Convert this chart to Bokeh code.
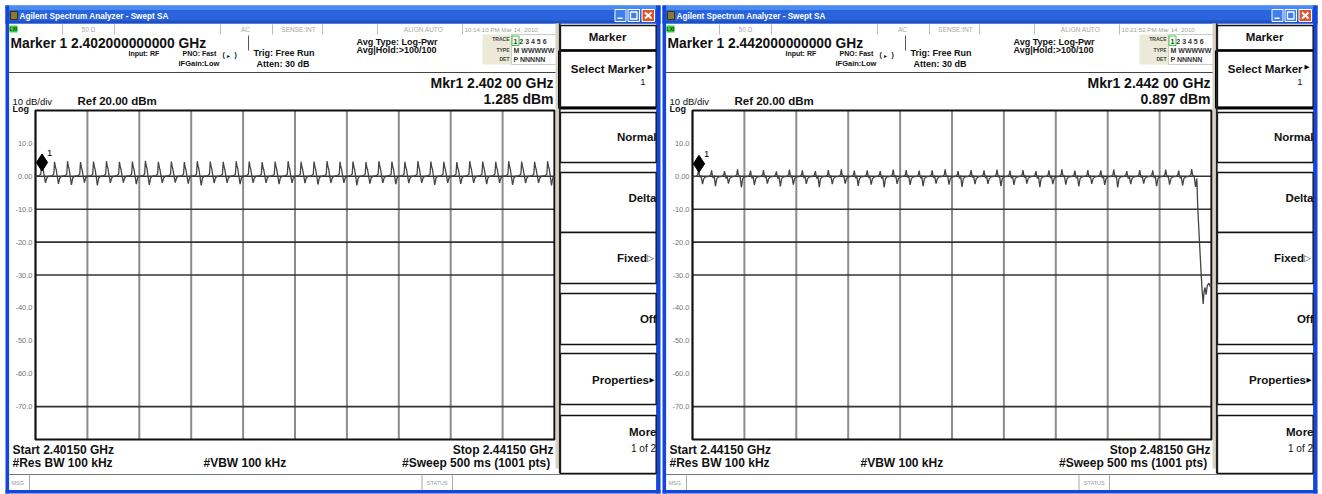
import numpy as np
from bokeh.plotting import figure
from bokeh.models import Range1d
from bokeh.core.properties import value
from bokeh.embed import file_html
from bokeh.resources import INLINE

SANS = "Liberation Sans"
SYM = "DejaVu Sans"

# ---------------- data ----------------
span_start_ghz = [2.40150, 2.44150]
span_stop_ghz = [2.44150, 2.48150]
ref_level_dbm = 20.0
bottom_level_dbm = -80.0
y_tick_values = [10, 0, -10, -20, -30, -40, -50, -60, -70]
y_tick_labels = ["10.0", "0.00", "-10.0", "-20.0", "-30.0", "-40.0", "-50.0", "-60.0", "-70.0"]
hgrid_shown_dbm = [0, -10, -20, -30, -70]

left_channel_mhz = [2402 + i for i in range(40)]
right_channel_mhz = [2442 + i for i in range(39)]

left_peak_dbm = [4.5, 4.4, 4.6, 4.3, 4.5, 4.6, 4.4, 4.5, 4.7, 4.4,
                 4.5, 4.3, 4.6, 4.5, 4.4, 4.6, 4.5, 4.3, 4.5, 4.6,
                 4.4, 4.5, 4.6, 4.4, 4.5, 4.3, 4.6, 4.5, 4.4, 4.6,
                 4.5, 4.4, 4.3, 4.6, 4.5, 4.4, 4.6, 4.5, 4.4, 4.6]
left_dip_dbm = [-2.0, -2.3, -2.6, -1.9, -2.8, -2.0, -1.9, -2.4, -2.6, -2.0,
                -1.9, -2.2, -2.8, -2.1, -2.0, -2.4, -2.0, -2.0, -2.4, -2.0,
                -2.1, -2.5, -2.0, -2.0, -2.8, -2.2, -2.0, -2.4, -2.1, -2.0,
                -2.6, -2.0, -2.3, -2.0, -2.4, -2.0, -2.6, -2.1, -2.0, -2.8]
right_peak_dbm = [2.0, 1.8, 1.6, 2.1, 1.7, 1.9, 1.5, 2.0, 1.8, 1.6,
                  1.9, 2.1, 1.7, 1.8, 1.6, 2.0, 1.9, 1.7, 1.8, 2.1,
                  1.6, 1.9, 1.8, 2.0, 1.7, 1.9, 1.6, 1.8, 2.1, 1.7,
                  1.9, 1.8, 2.0, 1.6, 1.9, 1.8, 2.0, 1.7, 2.2]
right_dip_dbm = [-2.4, -3.0, -2.2, -3.4, -2.6, -2.2, -3.1, -2.5, -2.3, -3.3,
                 -2.4, -2.2, -2.9, -2.5, -3.4, -2.3, -2.6, -3.0, -2.2, -2.5,
                 -3.2, -2.4, -2.3, -3.0, -2.6, -2.2, -3.3, -2.4, -2.5, -3.1,
                 -2.3, -2.6, -3.4, -2.4, -2.2, -3.0, -2.5, -2.8, -3.2]
left_base_dbm = 0.0
right_base_dbm = -0.2
right_tail_mhz = [2480.44, 2480.58, 2480.70, 2480.78, 2480.86, 2480.92,
                  2481.00, 2481.08, 2481.18, 2481.30, 2481.42, 2481.50]
right_tail_dbm = [-9.4, -20.4, -29.5, -34.7, -38.8, -35.2,
                  -33.8, -36.0, -33.2, -32.5, -33.6, -32.8]

marker_ghz = [2.402, 2.442]
marker_dbm = [1.285, 0.897]
timestamps = ["10:14:10 PM Mar 14, 2010", "10:21:52 PM Mar 14, 2010"]

# shape of one channel as seen on the trace: offsets (MHz) from the channel centre
shape_offset_mhz = [-0.50, -0.22, -0.09, -0.03, 0.03, 0.09, 0.16, 0.27, 0.37]


def build_trace(channels, peaks, dips, base, start, stop, tail_x=None, tail_y=None):
    xs, ys = [start], [base]
    for c, pk, dp in zip(channels, peaks, dips):
        levels = [base, base + 0.2, base + 0.7, pk, pk - 1.5, pk - 2.3, base + 0.4, dp, base - 0.5]
        for off, lv in zip(shape_offset_mhz, levels):
            xs.append((c + off) / 1000.0)
            ys.append(lv)
    if tail_x is not None:
        xs += [t / 1000.0 for t in tail_x]
        ys += list(tail_y)
    else:
        xs.append(stop)
        ys.append(base)
    return xs, ys


traces = [
    build_trace(left_channel_mhz, left_peak_dbm, left_dip_dbm, left_base_dbm,
                span_start_ghz[0], span_stop_ghz[0]),
    build_trace(right_channel_mhz, right_peak_dbm, right_dip_dbm, right_base_dbm,
                span_start_ghz[1], span_stop_ghz[1], right_tail_mhz, right_tail_dbm),
]

# ---------------- figure (screen-like canvas) ----------------
p = figure(width=1322, height=494, x_range=Range1d(0, 1322), y_range=Range1d(494, 0),
           output_backend="svg", toolbar_location=None, min_border=0,
           x_axis_location=None, y_axis_location=None, outline_line_color=None,
           background_fill_color="white", border_fill_color="white")
p.grid.visible = False


def T(x, y, s, size, bold=True, align="left", color="#111111", font=SANS, baseline="middle"):
    p.text(x=[x], y=[y], text=[s], text_font=value(font), text_font_size=f"{size}px",
           text_font_style="bold" if bold else "normal", text_align=align,
           text_baseline=baseline, text_color=color)


def R(l, r, t, b, fill, line=None, lw=1.0):
    p.quad(left=[l], right=[r], top=[t], bottom=[b], fill_color=fill,
           line_color=line, line_width=lw)


def S(x0, y0, x1, y1, color="#000000", w=1.0):
    p.segment(x0=[x0], y0=[y0], x1=[x1], y1=[y1], line_color=color, line_width=w)


def window(idx, ox):
    start, stop = span_start_ghz[idx], span_stop_ghz[idx]
    # title bar
    R(5 + ox, 660 + ox, 5, 23, "#2A64DC")
    R(5 + ox, 660 + ox, 5, 9.5, "#4A8CF2")
    R(5 + ox, 660 + ox, 20, 23, "#1D50C4")
    R(10 + ox, 17 + ox, 11, 19, "#8A7A38", "#3A3010")
    T(19 + ox, 15.5, "Agilent Spectrum Analyzer - Swept SA", 8.2, color="white")
    R(614.5 + ox, 625.5 + ox, 9, 21, "#3F7FF0", "white", 1)
    R(617 + ox, 622 + ox, 17, 18.6, "white")
    R(627.5 + ox, 639 + ox, 9, 21, "#3F7FF0", "white", 1)
    R(630 + ox, 636.5 + ox, 11.5, 18.5, None, "white", 1.3)
    R(641.5 + ox, 654 + ox, 9, 21, "#E0542B", "white", 1)
    S(644.5 + ox, 12, 651 + ox, 18, "white", 2)
    S(651 + ox, 12, 644.5 + ox, 18, "white", 2)
    # borders
    R(5 + ox, 8.6 + ox, 5, 493, "#1446DE")
    R(655.6 + ox, 660 + ox, 5, 493, "#1446DE")
    R(5 + ox, 660 + ox, 489.5, 493, "#1446DE")

    # status row
    R(9 + ox, 17 + ox, 25, 32, "#3BD13B")
    T(13 + ox, 28.6, "LXI", 5, align="center", color="#114411")
    for sx in [62, 114, 220, 272, 322, 377, 462]:
        S(sx + ox, 24, sx + ox, 34, "#bbbbbb", 1)
    T(88 + ox, 29, "50 Ω", 6.5, bold=False, align="center", color="#a8a8a8")
    T(245 + ox, 29, "AC", 6.5, bold=False, align="center", color="#a8a8a8")
    T(298 + ox, 29, "SENSE:INT", 6.5, bold=False, align="center", color="#a8a8a8")
    T(423 + ox, 29, "ALIGN AUTO", 6.5, bold=False, align="center", color="#a8a8a8")
    T(464 + ox, 29, timestamps[idx], 6.2, bold=False, color="#a0a0a0")

    # header
    T(10 + ox, 43, f"Marker 1  {marker_ghz[idx]:.12f} GHz", 13.8)
    T(128 + ox, 53, "Input: RF", 7)
    T(182 + ox, 53, "PNO: Fast", 7)
    T(222 + ox, 54, "(", 7)
    T(226.5 + ox, 55, "▸", 6, font=SYM)
    T(234 + ox, 54, ")", 7)
    T(178 + ox, 63, "IFGain:Low", 7.5)
    S(248 + ox, 35, 248 + ox, 50, "#555555", 1)
    T(253 + ox, 52, "Trig: Free Run", 9)
    T(256 + ox, 63, "Atten: 30 dB", 9)
    T(356 + ox, 41, "Avg Type: Log-Pwr", 9)
    T(356 + ox, 49.5, "Avg|Hold:>100/100", 9)

    # trace box
    R(482 + ox, 511 + ox, 34, 64, "#ECE9D8")
    R(511 + ox, 557 + ox, 34, 64, "white", "#cccccc", 1)
    R(511.5 + ox, 518.5 + ox, 35.5, 45, None, "#33cc33", 1)
    T(509 + ox, 38.5, "TRACE", 5, align="right", color="#444444")
    T(513 + ox, 40.5, "1 2 3 4 5 6", 7, color="#333333")
    T(509 + ox, 49.5, "TYPE", 5, align="right", color="#444444")
    T(513 + ox, 50, "M WWWWW", 7, color="#333333")
    T(509 + ox, 58, "DET", 5, align="right", color="#444444")
    T(513 + ox, 58.5, "P NNNNN", 7, color="#333333")

    S(8.6 + ox, 72, 556 + ox, 72, "#444444", 1)
    g = f"{marker_ghz[idx]:.5f}"
    T(553 + ox, 82, f"Mkr1 {g[:5]} {g[5:]} GHz", 14, align="right")
    T(553 + ox, 98.5, f"{marker_dbm[idx]:.3f} dBm", 14, align="right")
    T(12 + ox, 100.5, "10 dB/div", 9.5, bold=False)
    T(12 + ox, 108, "Log", 9)
    T(77 + ox, 100.5, f"Ref {ref_level_dbm:.2f} dBm", 11.5)

    # ---------- plot area through its own scales ----------
    sub = p.subplot(x_source=Range1d(start, stop),
                    y_source=Range1d(bottom_level_dbm, ref_level_dbm),
                    x_target=Range1d(35 + ox, 554 + ox),
                    y_target=Range1d(439, 110))
    vgrid = list(np.linspace(start, stop, 11)[1:-1])
    sub.segment(x0=vgrid, x1=vgrid, y0=[bottom_level_dbm] * len(vgrid),
                y1=[ref_level_dbm] * len(vgrid), line_color="#8c8c8c", line_width=2)
    sub.segment(x0=[start] * len(hgrid_shown_dbm), x1=[stop] * len(hgrid_shown_dbm),
                y0=hgrid_shown_dbm, y1=hgrid_shown_dbm, line_color="#333333", line_width=1.6)
    sub.quad(left=[start], right=[stop], bottom=[bottom_level_dbm], top=[ref_level_dbm],
             fill_color=None, line_color="#111111", line_width=2.2)
    sub.text(x=[start] * len(y_tick_values), y=y_tick_values, text=y_tick_labels,
             x_offset=-3, text_align="right", text_baseline="middle",
             text_font=value(SANS), text_font_size="7.5px", text_color="#777777")
    xs, ys = traces[idx]
    sub.line(xs, ys, line_color="#444444", line_width=1.3)
    sub.scatter([marker_ghz[idx]], [marker_dbm[idx] + 2.9], marker="diamond", size=17,
                fill_color="#000000", line_color="#000000")
    sub.text(x=[marker_ghz[idx]], y=[marker_dbm[idx]], text=["1"], x_offset=5, y_offset=-19,
             text_font=value(SANS), text_font_size="9.5px", text_baseline="middle",
             text_color="#000000")

    # bottom annotations
    T(12 + ox, 449, f"Start {start:.5f} GHz", 12)
    T(12 + ox, 462.5, "#Res BW 100 kHz", 12)
    T(203 + ox, 462.5, "#VBW 100 kHz", 12)
    T(553 + ox, 449, f"Stop {stop:.5f} GHz", 12, align="right")
    T(553 + ox, 462.5, "#Sweep  500 ms (1001 pts)", 12, align="right")

    # softkey panel
    R(555 + ox, 558.5 + ox, 23, 468, "#D6D2C2")
    keys = [(25, 50), (50, 107), (112, 162), (172, 232), (232, 283), (293, 344), (353, 404), (415, 473)]
    for (kt, kb) in keys:
        R(560 + ox, 655.6 + ox, kt, kb, "white", "#111111", 1.3)
    S(559 + ox, 50, 559 + ox, 108, "#000000", 3)
    S(559 + ox, 107.5, 655.6 + ox, 107.5, "#000000", 3)
    S(559 + ox, 50, 655.6 + ox, 50, "#000000", 2.5)
    S(559.3 + ox, 23, 559.3 + ox, 473, "#222222", 1.8)
    T(607 + ox, 36.5, "Marker", 11.5, align="center")
    T(645 + ox, 68, "Select Marker", 11.5, align="right")
    T(647 + ox, 66, "▶", 6.5, font=SYM, color="#000000")
    T(645 + ox, 81, "1", 9.5, bold=False, align="right")
    T(656 + ox, 136, "Normal", 11.5, align="right")
    T(656 + ox, 197, "Delta", 11.5, align="right")
    T(646.5 + ox, 257, "Fixed", 11.5, align="right")
    T(646.5 + ox, 257.5, "▷", 9, bold=False, font=SYM, color="#333333")
    T(656 + ox, 318, "Off", 11.5, align="right")
    T(648.5 + ox, 379, "Properties", 11.5, align="right")
    T(649 + ox, 379, "▶", 6.5, font=SYM, color="#000000")
    T(656 + ox, 431.5, "More", 11.5, align="right")
    T(655.5 + ox, 447.5, "1 of 2", 10, bold=False, align="right")

    # status bar
    S(8.6 + ox, 474, 655.6 + ox, 474, "#777777", 1)
    S(29 + ox, 474, 29 + ox, 489.5, "#aaaaaa", 1)
    T(11 + ox, 482, "MSG", 5.5, bold=False, color="#999999")
    S(421.5 + ox, 474, 421.5 + ox, 489.5, "#aaaaaa", 1)
    S(452 + ox, 474, 452 + ox, 489.5, "#aaaaaa", 1)
    T(436.7 + ox, 482, "STATUS", 5.5, bold=False, align="center", color="#999999")


window(0, 0)
window(1, 657)

open("out.html", "w").write(file_html(p, INLINE))
